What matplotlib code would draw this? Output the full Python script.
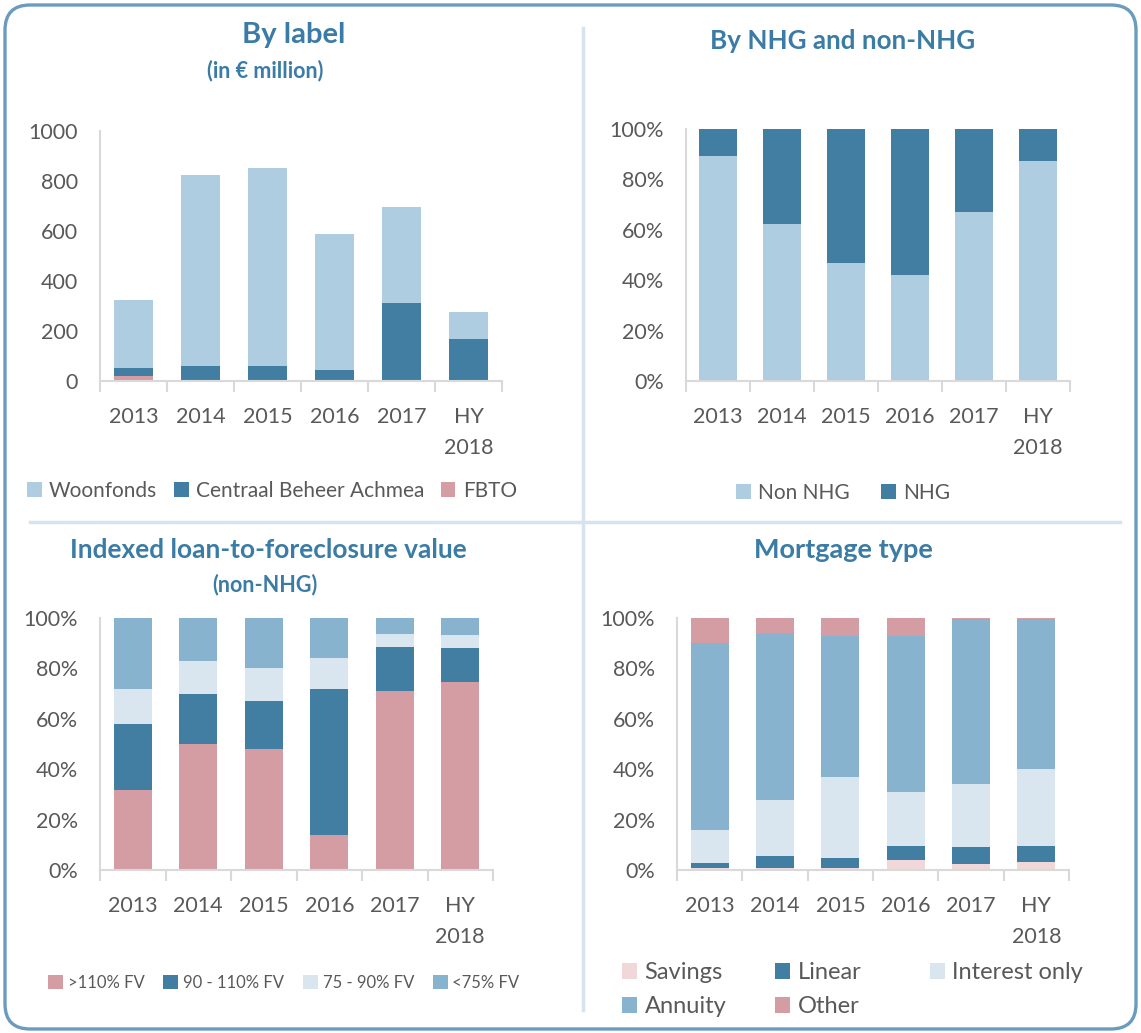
import numpy as np
import matplotlib
matplotlib.use('Agg')
import matplotlib.pyplot as plt
from matplotlib.patches import FancyBboxPatch
from matplotlib.lines import Line2D
from matplotlib.ticker import FuncFormatter

plt.rcParams['font.family'] = ['Lato', 'DejaVu Sans']

years = ['2013', '2014', '2015', '2016', '2017', 'HY\n2018']

# By label (in EUR million)
fbto = [20, 3, 2, 1, 1, 1]
cba = [32, 57, 59, 43, 311, 167]
woonfonds = [272, 764, 791, 544, 382, 108]

# By NHG and non-NHG (%)
non_nhg = [89.4, 62.4, 46.8, 42.2, 66.9, 87.4]
nhg = [10.6, 37.6, 53.2, 57.8, 33.1, 12.6]

# Indexed LtFV (non-NHG), %
ltv_110 = [31.8, 50.0, 48.0, 13.8, 71.1, 74.6]
ltv_90_110 = [26.1, 20.0, 18.9, 58.1, 17.2, 13.6]
ltv_75_90 = [14.0, 13.0, 13.2, 12.1, 5.5, 5.0]
ltv_75 = [28.1, 17.0, 19.9, 16.0, 6.2, 6.8]

# Mortgage type, %
savings = [0.7, 0.7, 0.7, 3.8, 2.5, 3.0]
linear = [2.2, 5.0, 4.2, 5.9, 6.5, 6.7]
interest_only = [13.0, 22.2, 32.1, 21.2, 25.2, 30.4]
annuity = [74.2, 66.1, 55.8, 61.9, 65.5, 59.6]
other = [9.9, 6.0, 7.2, 7.2, 0.3, 0.3]

LIGHT = '#afcde0'
DARK = '#417ea2'
PINK = '#d39da3'
MID = '#87b3ce'
PALE = '#d9e6f0'
SAV = '#efd7da'
TITLE = '#3a7ca5'
TXT = '#595959'
GRID = '#d9d9d9'
TICKFS = 15.5

W, H = 1141, 1033
fig = plt.figure(figsize=(W / 100, H / 100), dpi=100)


def px_axes(x0, y0, x1, y1):
    return fig.add_axes([x0 / W, 1 - y1 / H, (x1 - x0) / W, (y1 - y0) / H])


def stacked(ax, series, colors, labels, ymax, pct):
    x = np.arange(len(years))
    bottom = np.zeros(len(years))
    handles = []
    for vals, c, lab in zip(series, colors, labels):
        b = ax.bar(x, vals, 0.58, bottom=bottom, color=c, label=lab, zorder=2)
        bottom += np.array(vals)
        handles.append(b)
    ax.set_xlim(-0.5, len(years) - 0.5)
    ax.set_ylim(0, ymax)
    for s in ['top', 'right']:
        ax.spines[s].set_visible(False)
    ax.spines['left'].set_color(GRID)
    ax.spines['bottom'].set_color(GRID)
    ax.spines['left'].set_linewidth(1.5)
    ax.spines['bottom'].set_linewidth(1.5)
    ax.set_xticks(np.arange(-0.5, len(years), 1.0))
    ax.set_xticklabels([])
    ax.tick_params(axis='x', which='major', length=8, width=1.5, color=GRID)
    ax.set_xticks(x, minor=True)
    ax.set_xticklabels(years, minor=True, fontsize=TICKFS, color=TXT, linespacing=1.65)
    ax.tick_params(axis='x', which='minor', length=0, pad=19)
    ax.tick_params(axis='y', length=0, labelsize=TICKFS, labelcolor=TXT, pad=16)
    if pct:
        ax.set_yticks(np.arange(0, 101, 20))
        ax.yaxis.set_major_formatter(FuncFormatter(lambda v, p: '%d%%' % v))
    else:
        ax.set_yticks(np.arange(0, 1001, 200))
    return handles


def title(x, y, s, fs):
    fig.text(x / W, 1 - y / H, s, ha='center', va='center',
             fontsize=fs, fontweight='bold', color=TITLE)


# Panel 1
ax1 = px_axes(100, 131, 502, 381)
h1 = stacked(ax1, [fbto, cba, woonfonds], [PINK, DARK, LIGHT],
             ['FBTO', 'Centraal Beheer Achmea', 'Woonfonds'], 1000, False)
title(294, 35, 'By label', 21)
title(265, 71, '(in € million)', 15.5)
fig.legend([h1[2], h1[1], h1[0]], ['Woonfonds', 'Centraal Beheer Achmea', 'FBTO'],
           loc='center', bbox_to_anchor=(272 / W, 1 - 491 / H), ncol=3, frameon=False,
           fontsize=15, labelcolor=TXT, handlelength=0.7, handleheight=0.7,
           handletextpad=0.35, columnspacing=0.8, borderpad=0)

# Panel 2
ax2 = px_axes(686, 129, 1070, 381)
h2 = stacked(ax2, [non_nhg, nhg], [LIGHT, DARK], ['Non NHG', 'NHG'], 100, True)
title(843, 41, 'By NHG and non-NHG', 18.7)
fig.legend(h2, ['Non NHG', 'NHG'], loc='center', bbox_to_anchor=(843 / W, 1 - 493 / H),
           ncol=2, frameon=False, fontsize=15, labelcolor=TXT, handlelength=0.7,
           handleheight=0.7, handletextpad=0.35, columnspacing=1.5, borderpad=0)

# Panel 3
ax3 = px_axes(100, 618, 493, 870)
h3 = stacked(ax3, [ltv_110, ltv_90_110, ltv_75_90, ltv_75], [PINK, DARK, PALE, MID],
             ['>110% FV', '90 - 110% FV', '75 - 90% FV', '<75% FV'], 100, True)
title(268, 550, 'Indexed loan-to-foreclosure value', 18.9)
title(265, 585, '(non-NHG)', 15.5)
fig.legend(h3, ['>110% FV', '90 - 110% FV', '75 - 90% FV', '<75% FV'], loc='center',
           bbox_to_anchor=(284 / W, 1 - 983 / H), ncol=4, frameon=False, fontsize=12,
           labelcolor=TXT, handlelength=0.9, handleheight=0.9, handletextpad=0.3,
           columnspacing=1.1, borderpad=0)

# Panel 4
ax4 = px_axes(677, 618, 1069, 870)
h4 = stacked(ax4, [savings, linear, interest_only, annuity, other],
             [SAV, DARK, PALE, MID, PINK],
             ['Savings', 'Linear', 'Interest only', 'Annuity', 'Other'], 100, True)
title(843, 550, 'Mortgage type', 19.5)
cols = [([h4[0], h4[3]], ['Savings', 'Annuity'], 622),
        ([h4[1], h4[4]], ['Linear', 'Other'], 775),
        ([h4[2]], ['Interest only'], 930)]
for hs, labs, x0 in cols:
    fig.legend(hs, labs, loc='upper left', bbox_to_anchor=(x0 / W, 1 - 962 / H),
               ncol=1, frameon=False, fontsize=17, labelcolor=TXT, handlelength=0.65,
               handleheight=0.65, handletextpad=0.3, borderpad=0, borderaxespad=0,
               labelspacing=0.55)

# dividers and border
fig.add_artist(Line2D([583 / W, 583 / W], [1 - 28 / H, 1 - 1010 / H], color='#d6e4f0', lw=2.5))
fig.add_artist(Line2D([30 / W, 1120 / W], [1 - 522 / H, 1 - 522 / H], color='#d6e4f0', lw=2.5))
box = FancyBboxPatch((5 / W, 4 / H), 1131 / W, 1024 / H,
                     boxstyle='round,pad=0,rounding_size=0.022', transform=fig.transFigure,
                     fill=False, edgecolor='#6b9bbd', lw=2.4, mutation_aspect=W / H)
fig.add_artist(box)

fig.savefig('out.png', dpi=100)
